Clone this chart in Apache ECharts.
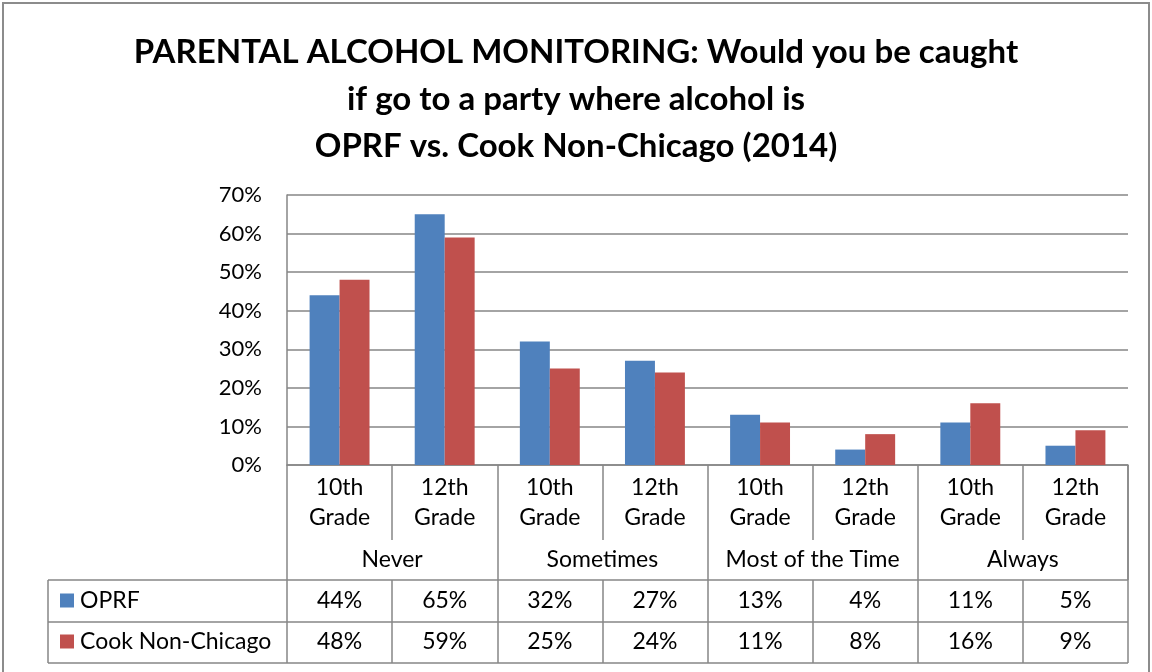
<!DOCTYPE html>
<html lang="en">
<head>
    <meta charset="UTF-8">
    <title>Parental Alcohol Monitoring</title>
    <script type="text/javascript" src="https://cdnjs.cloudflare.com/ajax/libs/echarts/6.0.0/echarts.min.js"></script>
    <style>
        html, body { margin: 0; padding: 0; background: #fff; }
    </style>
</head>
<body>
    <div id="main" style="width: 1152px; height: 672px"></div>
    <script type="text/javascript">
        // data
        var groups = ['Never', 'Sometimes', 'Most of the Time', 'Always'];
        var grades = ['10th\nGrade', '12th\nGrade'];
        var oprf = [44, 65, 32, 27, 13, 4, 11, 5];
        var cook = [48, 59, 25, 24, 11, 8, 16, 9];
        var seriesNames = ['OPRF', 'Cook Non-Chicago'];
        var yTicks = [0, 10, 20, 30, 40, 50, 60, 70];

        var categories = [];
        groups.forEach(function () {
            grades.forEach(function (g) { categories.push(g); });
        });

        var font = 'Lato';
        var lineColor = '#868686';
        var txt = '#000';
        var fs = 23;

        var myChart = echarts.init(document.getElementById('main'));

        myChart.setOption({
            animation: false,
            textStyle: { fontFamily: font },
            title: {
                text: 'PARENTAL ALCOHOL MONITORING: Would you be caught\nif go to a party where alcohol is\nOPRF vs. Cook Non-Chicago (2014)',
                left: 'center',
                top: 24,
                textStyle: {
                    fontFamily: font,
                    fontSize: 33,
                    fontWeight: 'bold',
                    lineHeight: 47,
                    color: txt
                }
            },
            legend: {
                orient: 'vertical',
                left: 60,
                top: 587,
                padding: 0,
                itemWidth: 14,
                itemHeight: 14,
                itemGap: 14,
                icon: 'rect',
                data: seriesNames,
                textStyle: { fontFamily: font, fontSize: fs, lineHeight: 27, color: txt, padding: [0, 0, 0, 1] }
            },
            grid: {
                left: 287,
                right: 24,
                top: 195,
                bottom: 207,
                containLabel: false
            },
            yAxis: {
                type: 'value',
                min: yTicks[0],
                max: yTicks[yTicks.length - 1],
                interval: 10,
                axisLine: { show: true, lineStyle: { color: lineColor, width: 1.5 } },
                axisTick: { show: false },
                axisLabel: {
                    formatter: '{value}%',
                    fontFamily: font,
                    fontSize: 22,
                    color: txt,
                    margin: 25
                },
                splitLine: { lineStyle: { color: lineColor, width: 1.5 } }
            },
            xAxis: [{
                type: 'category',
                data: categories,
                position: 'bottom',
                axisLine: { lineStyle: { color: lineColor, width: 1.5 } },
                axisTick: { show: true, interval: 0, length: 75, lineStyle: { color: lineColor, width: 1.5 } },
                axisLabel: {
                    interval: 0,
                    fontFamily: font,
                    fontSize: fs,
                    lineHeight: 30,
                    color: txt,
                    margin: 8
                }
            }, {
                type: 'category',
                data: groups,
                position: 'bottom',
                axisLine: { show: false },
                axisTick: { show: true, interval: 0, length: 115, lineStyle: { color: lineColor, width: 1.5 } },
                axisLabel: {
                    interval: 0,
                    fontFamily: font,
                    fontSize: fs,
                    lineHeight: 26,
                    color: txt,
                    margin: 82
                }
            }, {
                type: 'category',
                data: oprf.map(function (v) { return v + '%'; }),
                position: 'bottom',
                offset: 115,
                axisLine: { show: false },
                axisTick: { show: true, interval: 0, length: 83, lineStyle: { color: lineColor, width: 1.5 } },
                axisLabel: {
                    interval: 0,
                    fontFamily: font,
                    fontSize: fs,
                    lineHeight: 26,
                    color: txt,
                    margin: 8
                }
            }, {
                type: 'category',
                data: cook.map(function (v) { return v + '%'; }),
                position: 'bottom',
                offset: 157,
                axisLine: { show: false },
                axisTick: { show: false },
                axisLabel: {
                    interval: 0,
                    fontFamily: font,
                    fontSize: fs,
                    lineHeight: 26,
                    color: txt,
                    margin: 7
                }
            }],
            series: [{
                name: seriesNames[0],
                type: 'bar',
                xAxisIndex: 0,
                data: oprf,
                barGap: '0%',
                barCategoryGap: '43%',
                itemStyle: { color: '#4F81BD' }
            }, {
                name: seriesNames[1],
                type: 'bar',
                xAxisIndex: 0,
                data: cook,
                barGap: '0%',
                barCategoryGap: '43%',
                itemStyle: { color: '#C0504D' }
            }],
            graphic: [
                // outer frame
                { type: 'rect', shape: { x: 3, y: 3, width: 1146, height: 700 }, style: { fill: 'none', stroke: '#8c8c8c', lineWidth: 2 }, silent: true },
                // data table lines
                { type: 'line', shape: { x1: 48, y1: 580, x2: 1128, y2: 580 }, style: { stroke: lineColor, lineWidth: 1.5 }, silent: true },
                { type: 'line', shape: { x1: 48, y1: 622, x2: 1128, y2: 622 }, style: { stroke: lineColor, lineWidth: 1.5 }, silent: true },
                { type: 'line', shape: { x1: 48, y1: 663, x2: 1128, y2: 663 }, style: { stroke: lineColor, lineWidth: 1.5 }, silent: true },
                { type: 'line', shape: { x1: 48, y1: 580, x2: 48, y2: 663 }, style: { stroke: lineColor, lineWidth: 1.5 }, silent: true },
                { type: 'line', shape: { x1: 1128, y1: 465, x2: 1128, y2: 580 }, style: { stroke: lineColor, lineWidth: 1.5 }, silent: true }
            ]
        });
    </script>
</body>
</html>
